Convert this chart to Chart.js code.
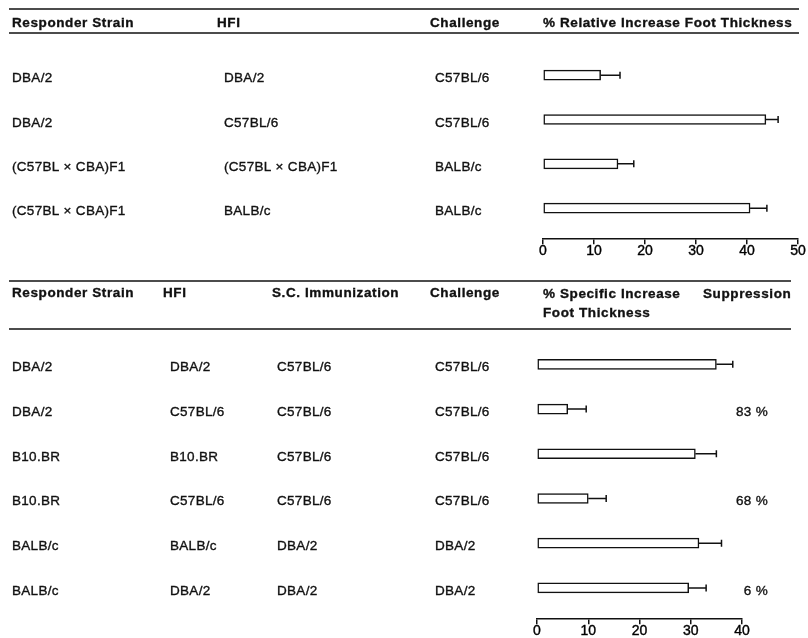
<!DOCTYPE html>
<html>
<head>
<meta charset="utf-8">
<script src="https://cdn.jsdelivr.net/npm/chart.js@4.4.1/dist/chart.umd.min.js"></script>
<style>
  html, body { margin: 0; padding: 0; background: #fff; }
  #wrap { position: relative; width: 808px; height: 638px; overflow: hidden; }
  canvas { position: absolute; left: 0; }
  #relChart { top: 0; }
  #specChart { top: 270px; }
</style>
</head>
<body>
<div id="wrap">
  <canvas id="relChart" width="808" height="270"></canvas>
  <canvas id="specChart" width="808" height="372"></canvas>
</div>
<script>
// ---- Table 1: relative increase in foot thickness ----
const relHeaders = ['Responder Strain', 'HFI', 'Challenge', '% Relative Increase Foot Thickness'];
const relResponder = ['DBA/2', 'DBA/2', '(C57BL × CBA)F1', '(C57BL × CBA)F1'];
const relHFI = ['DBA/2', 'C57BL/6', '(C57BL × CBA)F1', 'BALB/c'];
const relChallenge = ['C57BL/6', 'C57BL/6', 'BALB/c', 'BALB/c'];
const relIncrease = [11.3, 43.7, 14.7, 40.6];
const relError = [3.8, 2.4, 3.1, 3.3];
const relTicks = [0, 10, 20, 30, 40, 50];

// ---- Table 2: specific increase after s.c. immunization ----
const specHeaders = ['Responder Strain', 'HFI', 'S.C. Immunization', 'Challenge', '% Specific Increase', 'Foot Thickness', 'Suppression'];
const specResponder = ['DBA/2', 'DBA/2', 'B10.BR', 'B10.BR', 'BALB/c', 'BALB/c'];
const specHFI = ['DBA/2', 'C57BL/6', 'B10.BR', 'C57BL/6', 'BALB/c', 'DBA/2'];
const specImmunization = ['C57BL/6', 'C57BL/6', 'C57BL/6', 'C57BL/6', 'DBA/2', 'DBA/2'];
const specChallenge = ['C57BL/6', 'C57BL/6', 'C57BL/6', 'C57BL/6', 'DBA/2', 'DBA/2'];
const specIncrease = [35.0, 6.0, 30.9, 10.0, 31.6, 29.6];
const specError = [3.2, 3.6, 4.1, 3.5, 4.4, 3.4];
const suppression = ['', '83 %', '', '68 %', '', '6 %'];
const specTicks = [0, 10, 20, 30, 40];

const FONT = '"Liberation Sans", Arial, Helvetica, sans-serif';
const INK = '#111';

// Draws the column headers, rules and strain columns, aligned to the bar rows.
const strainTable = {
  id: 'strainTable',
  afterDraw(chart, args, opts) {
    const ctx = chart.ctx;
    const yScale = chart.scales.y;
    ctx.save();
    ctx.strokeStyle = INK;
    ctx.lineWidth = 1.6;
    opts.rules.forEach(r => {
      ctx.beginPath();
      ctx.moveTo(r.x0, r.y);
      ctx.lineTo(r.x1, r.y);
      ctx.stroke();
    });
    ctx.fillStyle = INK;
    ctx.textBaseline = 'alphabetic';
    ctx.textAlign = 'left';
    ctx.lineWidth = 0.35;
    ctx.font = 'bold 13.5px ' + FONT;
    if ('letterSpacing' in ctx) ctx.letterSpacing = '0.6px';
    opts.headers.forEach(h => {
      ctx.fillText(h.text, h.x, h.y);
      ctx.strokeText(h.text, h.x, h.y);
    });
    ctx.font = '13.5px ' + FONT;
    if ('letterSpacing' in ctx) ctx.letterSpacing = '0.3px';
    opts.columns.forEach(col => {
      ctx.textAlign = col.align || 'left';
      col.values.forEach((t, i) => {
        if (!t) return;
        const y = yScale.getPixelForValue(i) + 7;
        ctx.fillText(t, col.x, y);
        ctx.strokeText(t, col.x, y);
      });
    });
    ctx.restore();
  }
};

// Draws the one-sided error whisker with an end cap for each bar.
const whiskers = {
  id: 'whiskers',
  afterDatasetsDraw(chart, args, opts) {
    const ctx = chart.ctx;
    const xs = chart.scales.x, ys = chart.scales.y;
    const values = chart.data.datasets[0].data;
    ctx.save();
    ctx.strokeStyle = INK;
    ctx.lineWidth = 1.5;
    values.forEach((p, i) => {
      const x0 = xs.getPixelForValue(p.x);
      const x1 = xs.getPixelForValue(p.x + opts.errors[i]);
      const y = ys.getPixelForValue(p.y);
      ctx.beginPath();
      ctx.moveTo(x0, y);
      ctx.lineTo(x1, y);
      ctx.moveTo(x1, y - 3.5);
      ctx.lineTo(x1, y + 3.5);
      ctx.stroke();
    });
    ctx.restore();
  }
};

function makeChart(id, values, errors, ticks, yMax, padding, table) {
  return new Chart(document.getElementById(id), {
    type: 'bar',
    data: {
      datasets: [{
        data: values.map((v, i) => ({ x: v, y: i })),
        backgroundColor: '#fff',
        borderColor: INK,
        borderWidth: 1.5,
        borderSkipped: false,
        barThickness: 10
      }]
    },
    options: {
      indexAxis: 'y',
      responsive: false,
      animation: false,
      events: [],
      layout: { padding },
      plugins: {
        legend: { display: false },
        tooltip: { enabled: false },
        whiskers: { errors },
        strainTable: table
      },
      scales: {
        x: {
          type: 'linear',
          min: ticks[0],
          max: ticks[ticks.length - 1],
          afterBuildTicks: s => { s.ticks = ticks.map(v => ({ value: v })); },
          grid: { drawOnChartArea: false, drawTicks: true, tickLength: 5, color: INK, lineWidth: 1.5 },
          border: { display: true, color: INK, width: 1.5 },
          ticks: {
            padding: -1, color: '#000', maxRotation: 0,
            font: { family: FONT, size: 14 },
            textStrokeColor: '#000', textStrokeWidth: 0.4
          }
        },
        y: {
          type: 'linear',
          reverse: true,
          offset: false,
          min: -0.5,
          max: yMax,
          display: false
        }
      }
    },
    plugins: [whiskers, strainTable]
  });
}

makeChart('relChart', relIncrease, relError, relTicks, 3.7,
  { left: 543, right: 10, top: 53, bottom: 11 },
  {
    rules: [{ x0: 9, x1: 799, y: 9 }, { x0: 9, x1: 799, y: 33 }],
    headers: [
      { text: relHeaders[0], x: 12, y: 27 },
      { text: relHeaders[1], x: 217, y: 27 },
      { text: relHeaders[2], x: 430, y: 27 },
      { text: relHeaders[3], x: 543, y: 27 }
    ],
    columns: [
      { x: 12, values: relResponder },
      { x: 224, values: relHFI },
      { x: 435, values: relChallenge }
    ]
  });

makeChart('specChart', specIncrease, specError, specTicks, 5.7,
  { left: 537, right: 66, top: 72, bottom: 3 },
  {
    rules: [{ x0: 9, x1: 791, y: 11 }, { x0: 9, x1: 791, y: 59 }],
    headers: [
      { text: specHeaders[0], x: 12, y: 27 },
      { text: specHeaders[1], x: 163, y: 27 },
      { text: specHeaders[2], x: 272, y: 27 },
      { text: specHeaders[3], x: 430, y: 27 },
      { text: specHeaders[4], x: 543, y: 28 },
      { text: specHeaders[5], x: 543, y: 47 },
      { text: specHeaders[6], x: 703, y: 28 }
    ],
    columns: [
      { x: 12, values: specResponder },
      { x: 170, values: specHFI },
      { x: 277, values: specImmunization },
      { x: 435, values: specChallenge },
      { x: 768, values: suppression, align: 'right' }
    ]
  });
</script>
</body>
</html>
